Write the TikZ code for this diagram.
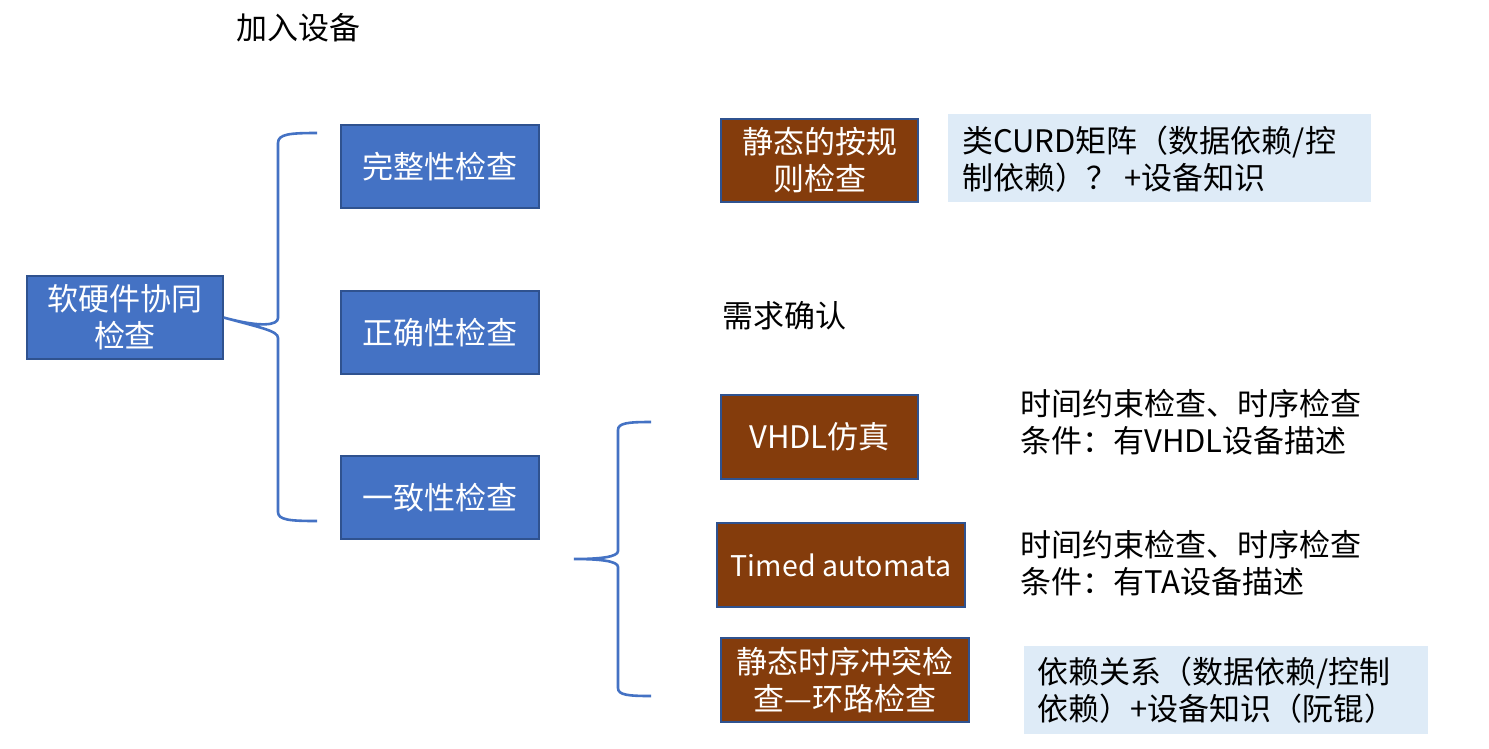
\documentclass[tikz,border=0pt]{standalone}
\usepackage{fontspec}
\setmainfont{Noto Sans CJK SC}
\definecolor{bluefill}{HTML}{4472C4}
\definecolor{blueedge}{HTML}{2F528F}
\definecolor{brownfill}{HTML}{843C0C}
\definecolor{lightfill}{HTML}{DEEBF7}
\begin{document}
\begin{tikzpicture}[x=1pt,y=-1pt,
  txt/.style={font=\fontsize{31}{37}\selectfont, inner sep=0pt, align=left},
  bluebox/.style={draw=blueedge, line width=1.2pt, fill=bluefill, text=white, font=\fontsize{31}{37}\selectfont, align=center, inner sep=0pt},
  brownbox/.style={draw=blueedge, line width=1.2pt, fill=brownfill, text=white, font=\fontsize{31}{37}\selectfont, align=center, inner sep=0pt},
  brace/.style={draw=bluefill, line width=2.6pt}]
\useasboundingbox (0,0) rectangle (1489,748);
\fill[white] (0,0) rectangle (1489,748);

% main blue boxes
\node[bluebox, minimum width=196pt, minimum height=83pt] (root) at (125,317.5) {软硬件协同\\检查};
\node[bluebox, minimum width=198pt, minimum height=83pt] (wz) at (440,166.5) {完整性检查};
\node[bluebox, minimum width=198pt, minimum height=83pt] (zq) at (440,332.5) {正确性检查};
\node[bluebox, minimum width=198pt, minimum height=83pt] (yz) at (440,497.5) {一致性检查};

% brown boxes
\node[brownbox, minimum width=197pt, minimum height=83pt] (jt) at (819.5,160.5) {静态的按规\\则检查};
\node[brownbox, minimum width=197pt, minimum height=84pt] (vh) at (819.5,437) {VHDL仿真};
\node[brownbox, minimum width=248pt, minimum height=84pt, font=\fontsize{28.5}{37}\selectfont] (ta) at (841,565) {Timed automata};
\node[brownbox, minimum width=248pt, minimum height=84pt] (hl) at (845,680) {静态时序冲突检\\查—环路检查};

% light note boxes
\fill[lightfill] (948,114) rectangle (1371,202);
\node[txt, anchor=west] (n1) at (962,159) {类CURD矩阵（数据依赖/控\\制依赖）？ +设备知识};
\fill[lightfill] (1024,646) rectangle (1428,734);
\node[txt, anchor=west] (n4) at (1037,690) {依赖关系（数据依赖/控制\\依赖）+设备知识（阮锟）};

% plain texts
\node[txt, anchor=west] (jr) at (236,28) {加入设备};
\node[txt, anchor=west] (xq) at (722,316) {需求确认};
\node[txt, anchor=west] (n2) at (1020,422) {时间约束检查、时序检查\\条件：有VHDL设备描述};
\node[txt, anchor=west] (n3) at (1020,563) {时间约束检查、时序检查\\条件：有TA设备描述};

% braces
\coordinate (b1tip) at (root.east);
\coordinate (b1top) at (317,133);
\coordinate (b1bot) at (317,521);
\draw[brace] (b1top) .. controls (290,133) and (278,134) .. (278,143) -- (278,318)
  .. controls (278,325) and (262,328) .. (b1tip)
  .. controls (262,328) and (278,331) .. (278,338) -- (278,512)
  .. controls (278,520) and (290,521) .. (b1bot);

\coordinate (b2tip) at (574,559);
\coordinate (b2top) at (651,422);
\coordinate (b2bot) at (651,696);
\draw[brace] (b2top) .. controls (628,422) and (618,423) .. (618,430) -- (618,551)
  .. controls (618,557) and (600,559) .. (b2tip)
  .. controls (600,559) and (618,561) .. (618,567) -- (618,688)
  .. controls (618,695) and (628,696) .. (b2bot);
\end{tikzpicture}
\end{document}
